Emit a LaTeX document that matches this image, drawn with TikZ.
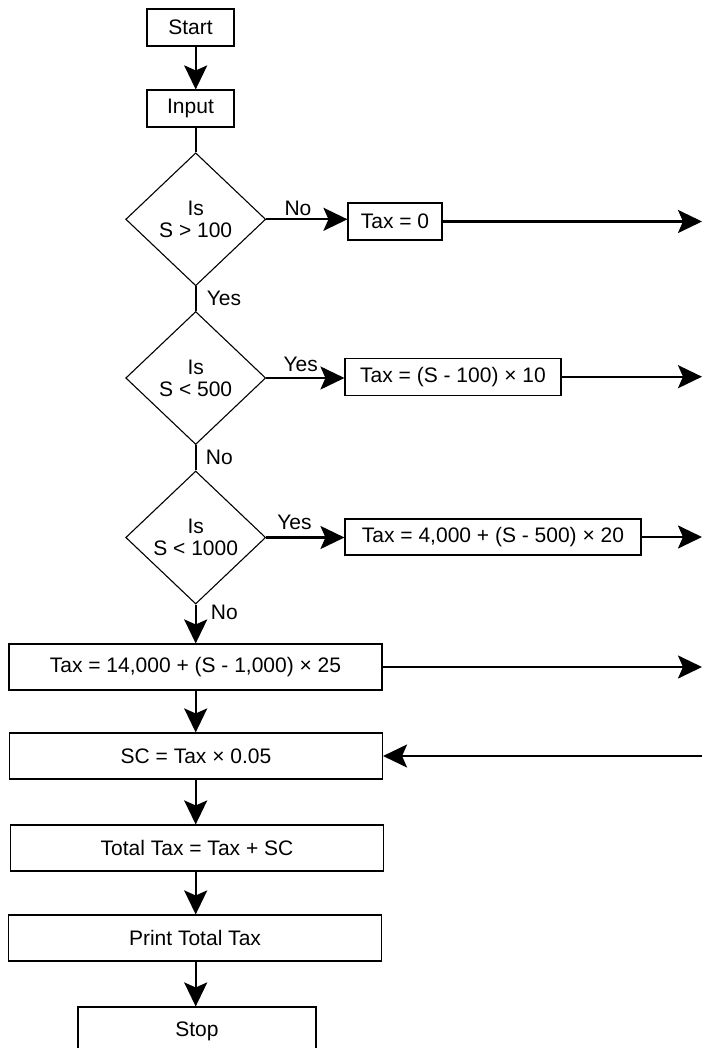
\documentclass[tikz,border=0pt]{standalone}
\usepackage{fontspec}
\setmainfont{Liberation Sans}
\usetikzlibrary{shapes.geometric,arrows.meta}
\begin{document}
\begin{tikzpicture}[x=1pt,y=-1pt,font=\fontsize{21}{22}\selectfont,
     box/.style={draw,line width=1.1pt,minimum height=37pt,inner sep=2pt},
     wide/.style={box,minimum width=373pt,minimum height=46pt},
     dec/.style={draw,diamond,line width=1.1pt,minimum width=140pt,minimum height=133pt,inner sep=0pt,align=center},
     link/.style={line width=2.4pt},
     arr/.style={link,-{Stealth[length=24pt,width=23pt,inset=5pt]}},
     lbl/.style={inner sep=2pt}]
  \useasboundingbox (0,0) rectangle (702,1048);
  \path (702,0) coordinate (edge);
  % main column
  \node[box,minimum width=87pt] (start) at (190.5,27.5) {Start};
  \node[box,minimum width=87pt] (input) at (190.5,108.5) {Input};
  \node[dec] (dec1) at (195.7,219.3) {Is\\S > 100};
  \node[dec] (dec2) at (195.7,378) {Is\\S < 500};
  \node[dec] (dec3) at (195.7,537.5) {Is\\S < 1000};
  \node[wide] (tax3) at (195.5,667) {Tax = 14,000 + (S - 1,000) × 25};
  \node[wide] (sc) at (196,756) {SC = Tax × 0.05};
  \node[wide] (total) at (197,848) {Total Tax = Tax + SC};
  \node[wide] (print) at (195,938) {Print Total Tax};
  \node[box,minimum width=238pt,minimum height=48pt] (stop) at (197,1031) {Stop};
  % side branches
  \node[box,minimum width=94pt] (tax0) at (395,221.5) {Tax = 0};
  \node[box,minimum width=216pt] (tax1) at (453,376.7) {Tax = (S - 100) × 10};
  \node[box,minimum width=296pt,minimum height=36pt] (tax2) at (493,537) {Tax = 4,000 + (S - 500) × 20};
  \draw[arr] (start.south -| dec1) -- (input.north -| dec1);
  \draw[link] (input.south -| dec1) -- (dec1.north);
  \draw[arr] (dec1.east) -- node[lbl,above,pos=.39] {No} (dec1.east -| tax0.west);
  \draw[link] (dec1.south) -- node[lbl,right=8pt] {Yes} (dec2.north);
  \draw[arr] (dec2.east) -- node[lbl,above=3pt,pos=.44] {Yes} (dec2.east -| tax1.west);
  \draw[link] (dec2.south) -- node[lbl,right=7pt] {No} (dec3.north);
  \draw[arr] (dec3.east) -- node[lbl,above=5pt,pos=.36] {Yes} (dec3.east -| tax2.west);
  \draw[arr] (dec3.south) -- node[lbl,right=12pt,pos=.2] {No} (tax3.north -| dec1);
  \draw[arr] (tax0.east) -- (tax0.east -| edge);
  \draw[arr] (tax1.east) -- (tax1.east -| edge);
  \draw[arr] (tax2.east) -- (tax2.east -| edge);
  \draw[arr] (tax3.east) -- (tax3.east -| edge);
  \draw[arr] (sc.east -| edge) -- (sc.east);
  \draw[arr] (tax3.south -| dec1) -- (sc.north -| dec1);
  \draw[arr] (sc.south -| dec1) -- (total.north -| dec1);
  \draw[arr] (total.south -| dec1) -- (print.north -| dec1);
  \draw[arr] (print.south -| dec1) -- (stop.north -| dec1);
\end{tikzpicture}
\end{document}
